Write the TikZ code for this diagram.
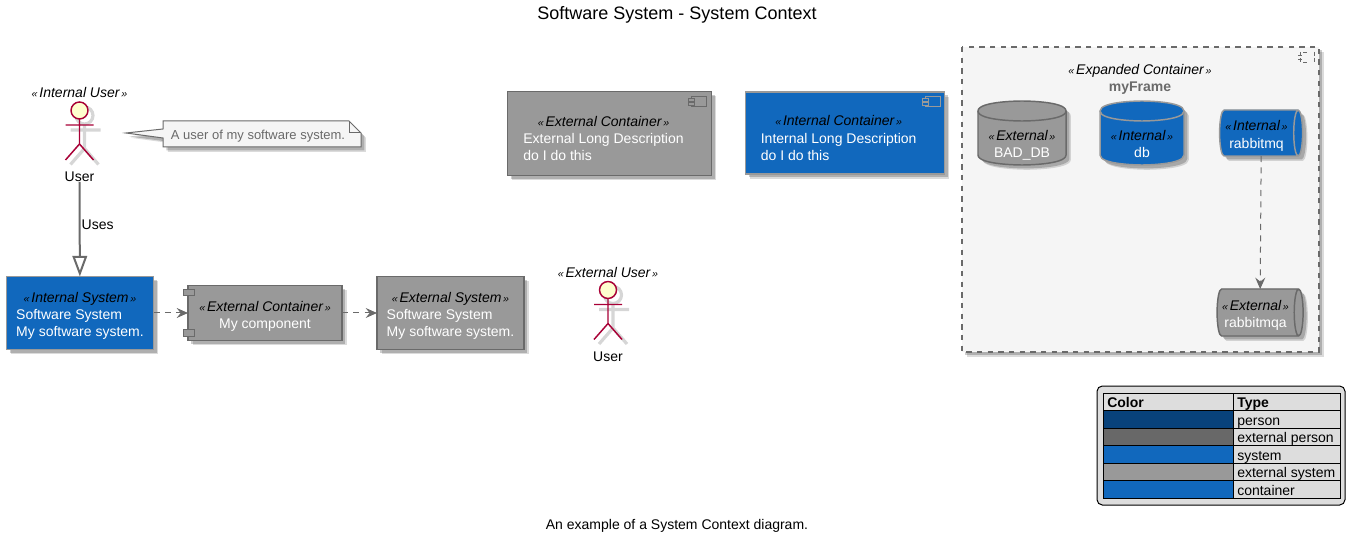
\documentclass[tikz,border=0pt]{standalone}
\usepackage{fontspec}
\setmainfont{Liberation Sans}
\usetikzlibrary{arrows.meta,shadows,shapes.geometric}
\definecolor{kek}{HTML}{1168BD}
\definecolor{sotetkek}{HTML}{08427B}
\definecolor{szurke}{HTML}{999999}
\definecolor{sotetszurke}{HTML}{686868}
\definecolor{vonal}{HTML}{6A6A6A}
\definecolor{halvany}{HTML}{F5F5F5}
\definecolor{tabla}{HTML}{DDDDDD}
\definecolor{bor}{HTML}{A80036}
\definecolor{fej}{HTML}{FEFECE}
\newcommand{\ster}[1]{{\color{black}\itshape{\footnotesize«\,}#1{\footnotesize\,»}}}
\newcommand{\blokk}[4][0pt]{\begin{tabular}{@{}l@{}}\multicolumn{1}{@{}c@{}}{\rule{0pt}{#1}\ster{#2}}\\[.6pt]#3\\#4\end{tabular}}
\newcommand{\hatso}[3][0pt]{\begin{tabular}{@{}c@{}}\rule{0pt}{#1}\ster{#2}\\[.6pt]#3\end{tabular}}
\tikzset{
  tx/.style={font=\fontsize{10.5}{12.6}\selectfont,text=white,inner sep=0pt,outer sep=0pt},
  arny/.style={drop shadow={shadow xshift=3.6pt,shadow yshift=-3.6pt,fill=black,opacity=.14},
    drop shadow={shadow xshift=2.6pt,shadow yshift=-2.6pt,fill=black,opacity=.2}},
  meret/.style 2 args={minimum width=#1*.75pt,minimum height=#2*.75pt},
  kbox/.style={tx,rectangle,draw=szurke,fill=kek,line width=1.1pt,arny},
  sbox/.style={tx,rectangle,draw=vonal,fill=szurke,line width=1.1pt,arny},
  kfel/.style={tx,cylinder,draw=szurke,fill=kek,cylinder uses custom fill,
    cylinder body fill=kek,cylinder end fill=kek,line width=1.1pt,arny},
  sfel/.style={tx,cylinder,draw=vonal,fill=szurke,cylinder uses custom fill,
    cylinder body fill=szurke,cylinder end fill=szurke,line width=1.1pt,arny},
  ember/.style={draw=bor,line width=1.1pt},
  felirat/.style={font=\fontsize{10.5}{12.6}\selectfont,inner sep=0pt,outer sep=0pt},
  szagg/.style={draw=vonal,line width=.75pt,dash pattern=on 4.5pt off 4pt,
    -{Stealth[length=8.5pt,width=7.5pt,inset=3pt]}},
  tomor/.style={draw=vonal,line width=1.5pt,-{Triangle[open,length=15.5pt,width=11pt]}},
  sor/.style={font=\fontsize{10.5}{12}\selectfont,anchor=base west,inner sep=0pt},
}
% stick figure, shadow first
\newcommand{\alak}[2]{
  \begin{scope}[shift={(#1,#2)}]
    \draw[black!16,line width=2.4pt] (5,5) circle[radius=8.5*.75pt] (5,13) -- (5,38) (-9,19.5) -- (21,19.5)
      (5,38) -- (-9,54) (5,38) -- (19,54);
    \draw[ember,fill=fej] (0,0) circle[radius=8.5*.75pt];
    \draw[ember] (0,8.5) -- (0,33.5) (-14,14.5) -- (14,14.5) (0,33.5) -- (-14,49.5) (0,33.5) -- (14,49.5);
  \end{scope}}
% small component mark
\newcommand{\jel}[4]{
  \draw[#3,fill=#4,line width=.75pt] (#1,#2) rectangle ++(15,10);
  \draw[#3,fill=#4,line width=.75pt] (#1-3,#2+1.5) rectangle ++(6,3) (#1-3,#2+5.5) rectangle ++(6,3);}
% upright store: left, top, right, bottom, line colour, fill
\newcommand{\tarolo}[6]{
  \draw[draw=#5,fill=#6,line width=1.1pt,arny] (#1,#2+10) .. controls (#1,#2) and ({(#1+#3)/2},#2) .. ({(#1+#3)/2},#2)
    .. controls ({(#1+#3)/2},#2) and (#3,#2) .. (#3,#2+10) -- (#3,#4-10)
    .. controls (#3,#4) and ({(#1+#3)/2},#4) .. ({(#1+#3)/2},#4)
    .. controls ({(#1+#3)/2},#4) and (#1,#4) .. (#1,#4-10) -- cycle;
  \draw[#5,line width=1.1pt] (#1,#2+10) .. controls (#1,#2+20) and ({(#1+#3)/2},#2+20) .. ({(#1+#3)/2},#2+20)
    .. controls ({(#1+#3)/2},#2+20) and (#3,#2+20) .. (#3,#2+10);}

\begin{document}
\begin{tikzpicture}[x=.75pt,y=-.75pt]
  \useasboundingbox (0,0) rectangle (1355,541);
  \node[font=\fontsize{13.5}{16}\selectfont,inner sep=0pt] (cim) at (677,15) {Software System - System Context};
  \node[felirat] (alairas) at (677,526) {An example of a System Context diagram.};

  % frame with the stores
  \draw[draw=vonal,fill=halvany,line width=1pt,dash pattern=on 4pt off 4pt,arny] (962,47) rectangle (1319,352);
  \draw[vonal,line width=.5pt,dash pattern=on 3pt off 1.5pt] (1300,52) -- (1300,62) (1298,55) -- (1302,55) (1298,59) -- (1302,59)
    (1303,52) -- (1309,52) (1303,62) -- (1309,62) (1314,52) -- (1314,62);
  \node[felirat] (keret) at (1140,71) {\ster{Expanded Container}};
  \node[felirat,font=\fontsize{10.5}{12.6}\selectfont\bfseries,text=vonal] (keretnev) at (1140,88) {myFrame};
  \tarolo{978}{101}{1066}{165}{vonal}{szurke}
  \node[tx] (baddb) at (1022,145.5) {\hatso{External}{BAD\_DB}};
  \tarolo{1100}{101}{1184}{165}{szurke}{kek}
  \node[tx] (db) at (1142,145.5) {\hatso{Internal}{db}};
  \node[kfel,aspect=.22,meret={46}{83}] (rmq) at (1258.5,133) {\hspace*{-3pt}\hatso[13.3pt]{Internal}{rabbitmq}};
  \node[sfel,aspect=.22,meret={47}{86}] (rmqa) at (1257.5,312.5) {\hspace*{-3pt}\hatso[13.3pt]{External}{rabbitmqa}};
  \draw[szagg] ([xshift=2pt]rmq.south) -- ([xshift=2pt]rmqa.north);

  % top row
  \node[sbox,meret={204}{84}] (kulso) at (609.5,133.5) {\hspace*{-9pt}\blokk[18.8pt]{External Container}{External Long Description}{do I do this}};
  \jel{691}{97}{vonal}{szurke}
  \node[kbox,meret={199}{82}] (belso) at (845,133) {\hspace*{-9.5pt}\blokk[18.8pt]{Internal Container}{Internal Long Description}{do I do this}};
  \jel{925}{97}{szurke}{kek}

  % people
  \alak{79.5}{110.5}
  \node[felirat] (user) at (79.5,177) {User};
  \node[felirat] (userfej) at (79.5,92) {\ster{Internal User}};
  \alak{608}{290}
  \node[felirat] (user2) at (608,357) {User};
  \node[felirat] (user2fej) at (608,272) {\ster{External User}};

  % note
  \draw[draw=vonal,fill=halvany,line width=.75pt,arny] (163,121) -- (349,121) -- (361,133) -- (361,147)
    -- (163,147) -- (163,138) -- (126,133) -- (163,129) -- cycle;
  \draw[vonal,line width=.75pt] (349,121) -- (349,133) -- (361,133);
  \node[felirat,font=\fontsize{9.75}{12}\selectfont,text=vonal] (megj) at (258,136) {A user of my software system.};

  % bottom row
  \node[kbox,meret={147}{73}] (rsz) at (80,313) {\blokk[13.3pt]{Internal System}{Software System}{My software system.}};
  \node[sbox,meret={154}{55}] (komp) at (265,313) {\hatso[14pt]{External Container}{My component}};
  \draw[draw=vonal,fill=szurke,line width=.75pt] (183,290) rectangle (194,296) (183,330) rectangle (194,336);
  \node[sbox,meret={147}{73}] (krsz) at (450.5,313) {\blokk[13.3pt]{External System}{Software System}{My software system.}};
  \draw[tomor] (user) -- node[felirat,right=1.5pt,pos=.45] (hasznal) {Uses} (rsz);
  \draw[szagg] (rsz) -- (komp);
  \draw[szagg] (komp) -- (krsz);

  % legend
  \draw[draw=black,fill=tabla,line width=.75pt,rounded corners=4pt] (1097,386) rectangle (1345,505);
  \draw[black,line width=.75pt] (1103,393) rectangle (1340,498);
  \foreach \szin/\tipus [count=\i from 0] in {sotetkek/person,sotetszurke/external person,kek/system,szurke/external system,kek/container}{
    \fill[\szin] (1103,{410.5+17.5*\i}) rectangle (1233,{428+17.5*\i});
    \draw[black,line width=.5pt] (1103,{410.5+17.5*\i}) -- (1340,{410.5+17.5*\i});
    \node[sor] (tipus\i) at (1237,{425+17.5*\i}) {\tipus};
  }
  \draw[black,line width=.75pt] (1233,393) -- (1233,498) (1103,393) rectangle (1340,498);
  \node[sor,font=\fontsize{10.5}{12}\selectfont\bfseries] (fejszin) at (1107,407) {Color};
  \node[sor,font=\fontsize{10.5}{12}\selectfont\bfseries] (fejtipus) at (1237,407) {Type};
\end{tikzpicture}
\end{document}
